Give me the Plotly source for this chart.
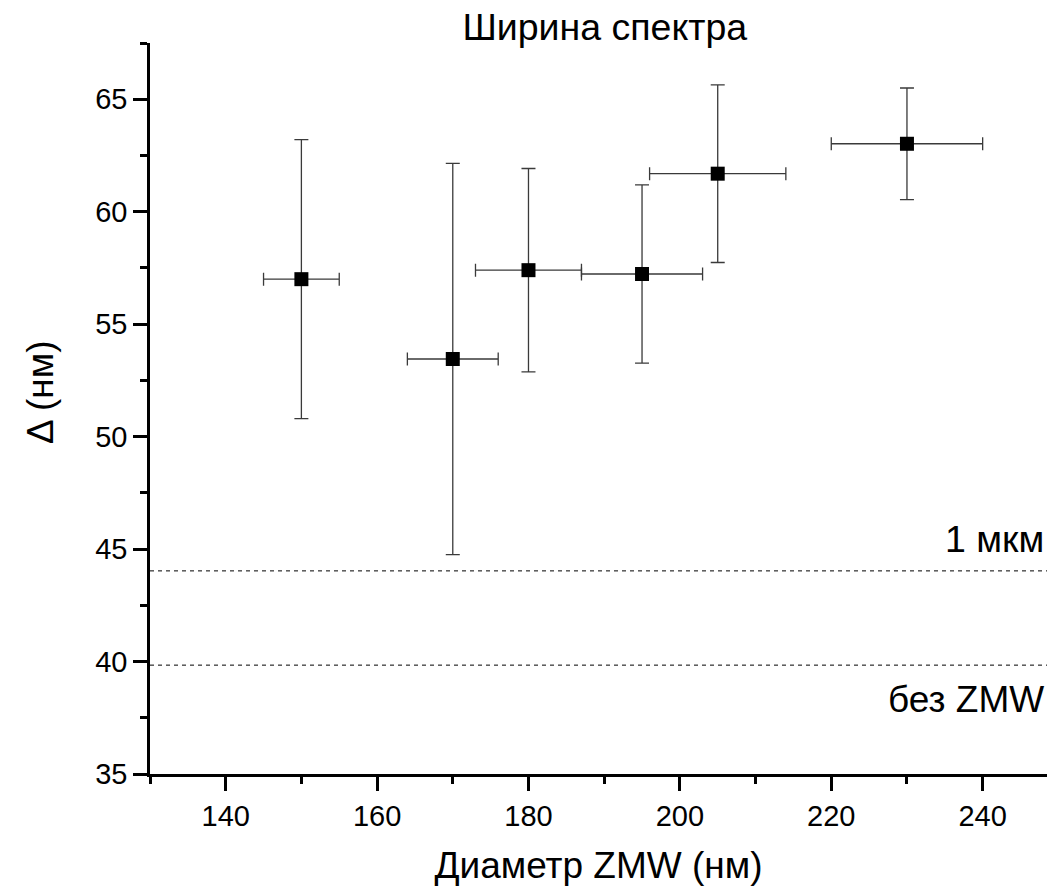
import plotly.graph_objects as go

# ---- data ----
diameter_nm = [150, 170, 180, 195, 205, 230]
diameter_err = [5, 6, 7, 8, 9, 10]
width_nm = [57.0, 53.45, 57.4, 57.23, 61.69, 63.02]
width_err = [6.2, 8.7, 4.52, 3.96, 3.95, 2.48]

ref_levels = [44.03, 39.84]
ref_labels = ["1 мкм", "без ZMW"]

x_ticks = [140, 160, 180, 200, 220, 240]
y_ticks = [35, 40, 45, 50, 55, 60, 65]

FONT = "Liberation Sans, Arial, sans-serif"

fig = go.Figure()
fig.add_trace(go.Scatter(
    x=diameter_nm, y=width_nm, mode="markers",
    marker=dict(symbol="square", size=14, color="black"),
    error_x=dict(type="data", array=diameter_err, visible=True,
                 color="#3a3a3a", thickness=1.3, width=6.5),
    error_y=dict(type="data", array=width_err, visible=True,
                 color="#3a3a3a", thickness=1.3, width=7),
    showlegend=False, cliponaxis=False,
))

for lvl in ref_levels:
    fig.add_shape(type="line", xref="paper", x0=0, x1=1, yref="y", y0=lvl, y1=lvl,
                  line=dict(color="black", width=1, dash="4px,4px"))

fig.add_annotation(text=ref_labels[0], xref="paper", x=1.0, xanchor="right", xshift=-1,
                   yref="y", y=45.45, yanchor="middle", showarrow=False,
                   font=dict(family=FONT, size=37.5, color="black"))
fig.add_annotation(text=ref_labels[1], xref="paper", x=1.0, xanchor="right", xshift=-1,
                   yref="y", y=38.3, yanchor="middle", showarrow=False,
                   font=dict(family=FONT, size=37, color="black"))

# y-axis title placed as annotation to match reference position
fig.add_annotation(text="Δ (нм)", xref="paper", x=(40 - 150) / 897, xanchor="center",
                   yref="paper", y=(774 - 393) / 731, yanchor="middle",
                   textangle=-90, showarrow=False,
                   font=dict(family=FONT, size=37, color="black"))

axis_common = dict(
    showline=True, linecolor="black", linewidth=2.5, mirror=False,
    showgrid=False, zeroline=False,
    ticks="outside", ticklen=14, tickwidth=2.5, tickcolor="black",
    tickfont=dict(family=FONT, size=29, color="black"),
)

fig.update_layout(
    width=1047, height=888,
    margin=dict(l=150, r=0, t=43, b=114, pad=0),
    paper_bgcolor="white", plot_bgcolor="white",
    title=dict(text="Ширина спектра", x=0.507, xref="paper", xanchor="center",
               y=1 - 27 / 888, yref="container", yanchor="middle",
               font=dict(family=FONT, size=37.5, color="black")),
    xaxis=dict(range=[130, 248.5], tickmode="array", tickvals=x_ticks,
               minor=dict(dtick=10, tick0=130, ticklen=7, tickwidth=2.5,
                          tickcolor="black", ticks="outside", showgrid=False),
               title=dict(text="Диаметр ZMW (нм)", standoff=22,
                          font=dict(family=FONT, size=37, color="black")),
               **axis_common),
    yaxis=dict(range=[35, 67.5], tickmode="array", tickvals=y_ticks,
               minor=dict(dtick=2.5, tick0=35, ticklen=7, tickwidth=2.5,
                          tickcolor="black", ticks="outside", showgrid=False),
               **axis_common),
)

fig.write_html("out.html")
